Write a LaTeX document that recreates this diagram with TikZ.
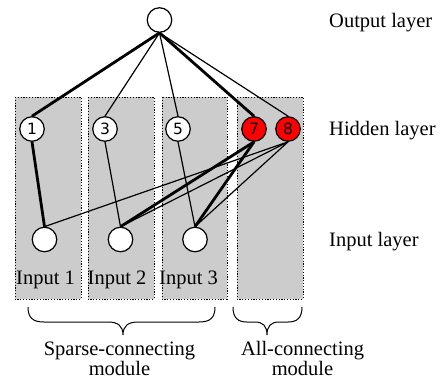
\documentclass[tikz,border=0pt]{standalone}
\usepackage{fontspec}
\setmainfont{Liberation Serif}
\newfontfamily\numfont{DejaVu Sans}
\definecolor{modgray}{RGB}{204,204,204}
\definecolor{hidred}{RGB}{255,0,0}
\begin{document}
\begin{tikzpicture}[x=1pt,y=-1pt,
  neuron/.style={circle,draw,line width=1.2pt,minimum size=24.5pt,inner sep=0pt,fill=white},
  hid/.style={neuron,font=\numfont\fontsize{15.5}{15.5}\selectfont},
  redneuron/.style={hid,fill=hidred},
  modbox/.style={fill=modgray,draw=black,line width=0.8pt,dash pattern=on 1.2pt off 1.6pt},
  strongedge/.style={line width=2.8pt},
  weakedge/.style={line width=1.2pt},
  bracestyle/.style={line width=1pt},
  lbl/.style={font=\fontsize{20.5}{19.5}\selectfont,inner sep=0pt,align=center}
]
\useasboundingbox (0,0) rectangle (443,379);
% module boxes
\draw[modbox] (15,97) rectangle (81,299);
\draw[modbox] (88,97) rectangle (154,299);
\draw[modbox] (162,97) rectangle (227,299);
\draw[modbox] (237,97) rectangle (303,299);
% neurons
\node[neuron] (out) at (159.5,20) {};
\node[hid] (h1) at (32,129) {1};
\node[hid] (h3) at (105,129) {3};
\node[hid] (h5) at (178,129) {5};
\node[redneuron] (h7) at (254,129) {7};
\node[redneuron] (h8) at (288,129) {8};
\node[neuron] (i1) at (44.5,239.5) {};
\node[neuron] (i2) at (120.5,239.5) {};
\node[neuron] (i3) at (195,239.5) {};
% connections
\draw[strongedge] (out.south) -- (h1.north);
\draw[weakedge] (out.south) -- (h3.north);
\draw[weakedge] (out.south) -- (h5.north);
\draw[strongedge] (out.south) -- (h7.north);
\draw[weakedge] (out.south) -- (h8.north);
\draw[strongedge] (h1.south) -- (i1.north);
\draw[weakedge] (h3.south) -- (i2.north);
\draw[weakedge] (h5.south) -- (i3.north);
\draw[strongedge] (h7.south) -- (i2.north);
\draw[strongedge] (h7.south) -- (i3.north);
\draw[weakedge] (h8.south) -- (i1.north);
\draw[weakedge] (h8.south) -- (i2.north);
\draw[weakedge] (h8.south) -- (i3.north);
% layer labels
\node[lbl,anchor=base west] (lout) at (329,28) {Output layer};
\node[lbl,anchor=base west] (lhid) at (329,135.5) {Hidden layer};
\node[lbl,anchor=base west] (linp) at (329,246) {Input layer};
% input labels
\node[lbl,anchor=base] (t1) at (45.5,284) {Input 1};
\node[lbl,anchor=base] (t2) at (117,284) {Input 2};
\node[lbl,anchor=base] (t3) at (188.5,284) {Input 3};
% braces
\draw[bracestyle] (28,307) .. controls (28,318) and (33,322) .. (44,322) -- (108,322)
  .. controls (118,322) and (123,326) .. (123,335)
  .. controls (123,326) and (128,322) .. (138,322) -- (199,322)
  .. controls (210,322) and (215,318) .. (215,307);
\draw[bracestyle] (233,307) .. controls (233,318) and (238,322) .. (247,322) -- (255,322)
  .. controls (263,322) and (267,326) .. (267,335)
  .. controls (267,326) and (271,322) .. (279,322) -- (288,322)
  .. controls (297,322) and (302,318) .. (302,307);
\node[lbl,anchor=base] (sparse) at (119.5,375) {Sparse-connecting\\module};
\node[lbl,anchor=base] (allc) at (302.5,375) {All-connecting\\module};
\end{tikzpicture}
\end{document}
